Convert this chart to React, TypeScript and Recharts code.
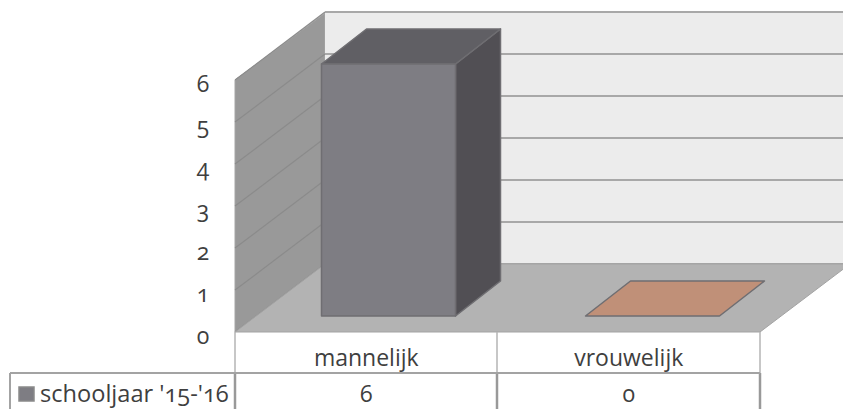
import React from 'react';
import { Bar, BarChart, XAxis, YAxis } from 'recharts';

const categories = ['mannelijk', 'vrouwelijk'];
const values = [6, 0];
const seriesName = "schooljaar '15-'16";
const yTicks = [0, 1, 2, 3, 4, 5, 6];

const data = categories.map((name, i) => ({ name, value: values[i] }));

const WIDTH = 843;
const HEIGHT = 409;
const LEFT = 235;
const RIGHT = 760;
const TOP = 80;
const BOTTOM = 332;
const UNIT = 42;
const DEPTH_X = 90;
const DEPTH_Y = 68;
const ROW = 373;
const FONT = '"Open Sans", sans-serif';
const TEXT = '#3f3f3f';
const LINE = '#a3a3a3';

const FRONT = ['#7e7d83', '#c09078'];
const TOPS = ['#605f64', '#c09078'];
const SIDES = ['#514f54', '#a87c66'];

const textStyle = { fontFamily: FONT, fontFeatureSettings: '"onum"', fontSize: 23, fill: TEXT };

const Walls = () => (
  <g>
    <polygon
      points={`${LEFT},${TOP} ${LEFT + DEPTH_X},${TOP - DEPTH_Y + 1} ${LEFT + DEPTH_X},${BOTTOM - DEPTH_Y} ${LEFT},${BOTTOM}`}
      fill="#999999"
      stroke="#a6a6a6"
    />
    <rect x={LEFT + DEPTH_X} y={13} width={WIDTH} height={251} fill="#ececec" />
    {yTicks.map((t) => {
      const y = BOTTOM - t * UNIT;
      return (
        <g key={t}>
          <line x1={LEFT} y1={y} x2={LEFT + DEPTH_X} y2={y - DEPTH_Y} stroke="#8b8b8b" strokeWidth={1.2} />
          <line x1={LEFT + DEPTH_X} y1={y - DEPTH_Y} x2={WIDTH} y2={y - DEPTH_Y} stroke="#a8a8a8" strokeWidth={2} />
        </g>
      );
    })}
    <polygon
      points={`${LEFT},${BOTTOM} ${RIGHT},${BOTTOM} ${RIGHT + DEPTH_X},${BOTTOM - DEPTH_Y} ${LEFT + DEPTH_X},${BOTTOM - DEPTH_Y}`}
      fill="#b3b3b3"
      stroke="#a3a3a3"
    />
  </g>
);

const DataTable = () => (
  <g stroke={LINE}>
    {[LEFT, 497, RIGHT].map((x) => (
      <g key={x}>
        <line x1={x} y1={BOTTOM} x2={x} y2={ROW} stroke="#b5b5b5" strokeWidth={1.5} />
        <line x1={x} y1={ROW} x2={x} y2={HEIGHT} stroke="#999999" strokeWidth={2.5} />
      </g>
    ))}
    <line x1={10} y1={ROW} x2={RIGHT} y2={ROW} strokeWidth={2} />
    <line x1={10} y1={ROW} x2={10} y2={HEIGHT} strokeWidth={2} />
    <rect x={19} y={387} width={15} height={14} fill={FRONT[0]} stroke="#8a8a8a" strokeWidth={1.5} />
    <text x={40} y={402} stroke="none" style={{ ...textStyle, fontSize: 23.6 }}>
      {seriesName}
    </text>
  </g>
);

const Column = (props: any) => {
  const { x, y, width, height, index } = props;
  const dx = 45;
  const dy = 35;
  const left = x + 22.5 + index * 1.5;
  const top = y - 16;
  const right = left + width;
  const bottom = top + height;
  return (
    <g stroke="#6f6e72" strokeWidth={1.5} strokeLinejoin="round">
      {height > 0 && (
        <polygon
          points={`${right},${top} ${right + dx},${top - dy} ${right + dx},${bottom - dy} ${right},${bottom}`}
          fill={SIDES[index]}
        />
      )}
      <polygon
        points={`${left},${top} ${left + dx},${top - dy} ${right + dx},${top - dy} ${right},${top}`}
        fill={TOPS[index]}
      />
      {height > 0 && <rect x={left} y={top} width={width} height={height} fill={FRONT[index]} />}
    </g>
  );
};

const CategoryTick = (props: any) => {
  const { x, payload, index } = props;
  return (
    <g>
      <text x={x} y={366} textAnchor="middle" style={textStyle}>
        {payload.value}
      </text>
      <text x={x} y={402} textAnchor="middle" style={textStyle}>
        {values[index]}
      </text>
    </g>
  );
};

const ValueTick = (props: any) => {
  const { y, payload } = props;
  return (
    <text x={203} y={y + 11.5} textAnchor="middle" style={textStyle}>
      {payload.value}
    </text>
  );
};

export default function App() {
  return (
    <div style={{ position: 'absolute', left: 0, top: 0, width: WIDTH, height: HEIGHT, overflow: 'hidden', background: '#fff' }}>
      <BarChart
        width={WIDTH}
        height={HEIGHT}
        data={data}
        margin={{ top: TOP, right: WIDTH - RIGHT, bottom: 0, left: 0 }}
        barCategoryGap={0}
      >
        <Walls />
        <DataTable />
        <XAxis
          dataKey="name"
          height={HEIGHT - BOTTOM}
          axisLine={false}
          tickLine={false}
          interval={0}
          tick={<CategoryTick />}
        />
        <YAxis
          width={LEFT}
          domain={[0, 6]}
          ticks={yTicks}
          axisLine={false}
          tickLine={false}
          tick={<ValueTick />}
        />
        <Bar dataKey="value" barSize={134} isAnimationActive={false} shape={<Column />} />
      </BarChart>
    </div>
  );
}
